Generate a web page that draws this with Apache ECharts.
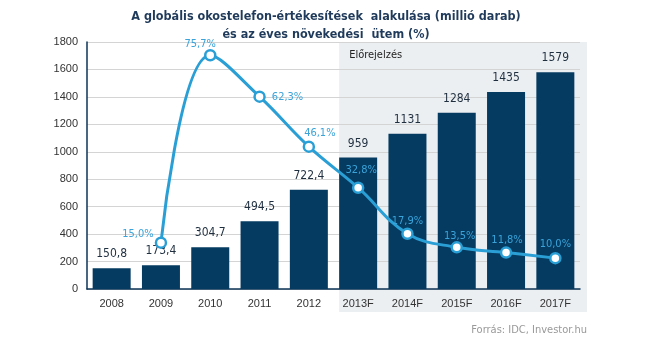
<!DOCTYPE html>
<html>
<head>
<meta charset="utf-8">
<script src="https://cdn.jsdelivr.net/npm/echarts@6/dist/echarts.min.js"></script>
<style>
  html, body { margin: 0; padding: 0; background: #fff; }
  #chart { width: 645px; height: 354px; }
</style>
</head>
<body>
<div id="chart"></div>
<script>
// adatok
var years = ['2008', '2009', '2010', '2011', '2012', '2013F', '2014F', '2015F', '2016F', '2017F']
var sales = [150.8, 173.4, 304.7, 494.5, 722.4, 959, 1131, 1284, 1435, 1579]
var growth = [null, 15.0, 75.7, 62.3, 46.1, 32.8, 17.9, 13.5, 11.8, 10.0]
var forecastFrom = '2013F'

var fmt = function (v) { return String(v).replace('.', ',') }
var labelPos = [null, [-23, -9], [-10, -11], [28, 0], [11, -14], [3, -18], [0, -13], [3, -11], [1, -12], [0, -14]]

var chart = echarts.init(document.getElementById('chart'))
chart.setOption({
  animation: false,
  title: {
    text: 'A globális okostelefon-értékesítések  alakulása (millió darab)\nés az éves növekedési  ütem (%)',
    left: 321,
    textAlign: 'center',
    top: 3,
    textStyle: {
      fontFamily: 'DejaVu Sans Condensed',
      fontWeight: 'bold',
      fontSize: 12.5,
      lineHeight: 18,
      color: '#1f3a5a'
    }
  },
  grid: { left: 87, right: 65, top: 42, bottom: 65 },
  xAxis: {
    type: 'category',
    data: years,
    axisLine: { lineStyle: { color: '#0d3556', width: 1.5 } },
    axisTick: { show: false },
    axisLabel: { color: '#333', fontSize: 11, fontFamily: 'Liberation Sans', margin: 9 }
  },
  yAxis: [{
    type: 'value',
    min: 0,
    max: 1800,
    interval: 200,
    axisLine: { show: true, lineStyle: { color: '#0d3556', width: 1.5 } },
    axisTick: { show: false },
    axisLabel: { color: '#333', fontSize: 11, fontFamily: 'Liberation Sans', margin: 9, formatter: function (v) { return String(v) } },
    splitLine: { lineStyle: { color: '#d4d4d4' } }
  }, {
    type: 'value',
    min: 0,
    max: 80,
    show: false
  }],
  series: [{
    name: 'eladás',
    type: 'bar',
    data: sales,
    barWidth: 38,
    itemStyle: { color: '#053b61' },
    label: {
      show: true,
      position: 'top',
      distance: 8,
      color: '#1f2f40',
      fontSize: 12,
      fontFamily: 'DejaVu Sans Condensed',
      formatter: function (p) { return fmt(p.value) }
    },
    z: 2
  }, {
    name: 'növekedés',
    type: 'line',
    yAxisIndex: 1,
    data: growth.map(function (v, i) {
      return v === null ? v : { value: v, label: { offset: labelPos[i] } }
    }),
    smooth: 0.4,
    symbol: 'circle',
    symbolSize: 10,
    lineStyle: { color: '#2a9fd6', width: 3 },
    itemStyle: { color: '#fff', borderColor: '#2a9fd6', borderWidth: 2.5 },
    label: {
      show: true,
      position: 'inside',
      color: '#3aa3da',
      fontSize: 11,
      fontFamily: 'DejaVu Sans Condensed',
      formatter: function (p) { return fmt(p.value.toFixed(1)) + '%' }
    },
    z: 5
  }]
})

// előrejelzési sáv háttere
var i0 = years.indexOf(forecastFrom)
var band = chart.convertToPixel({ xAxisIndex: 0 }, years[1]) - chart.convertToPixel({ xAxisIndex: 0 }, years[0])
var x0 = chart.convertToPixel({ xAxisIndex: 0 }, years[i0]) - 19
var x1 = chart.convertToPixel({ xAxisIndex: 0 }, years[years.length - 1]) + band / 2 + 7
var yTop = chart.convertToPixel({ yAxisIndex: 0 }, 1800)
var yBot = chart.convertToPixel({ yAxisIndex: 0 }, 0) + 23
chart.setOption({
  graphic: [{
    type: 'rect',
    z: -10,
    silent: true,
    shape: { x: x0, y: yTop, width: x1 - x0, height: yBot - yTop },
    style: { fill: '#eceff2' }
  }, {
    type: 'text',
    left: x0 + 10,
    top: yTop + 8,
    style: { text: 'Előrejelzés', fill: '#222', font: '11px "DejaVu Sans Condensed"' }
  }, {
    type: 'text',
    right: 645 - x1,
    top: 325,
    style: { text: 'Forrás: IDC, Investor.hu', fill: '#999', font: '11px "DejaVu Sans Condensed"' }
  }]
})
</script>
</body>
</html>
